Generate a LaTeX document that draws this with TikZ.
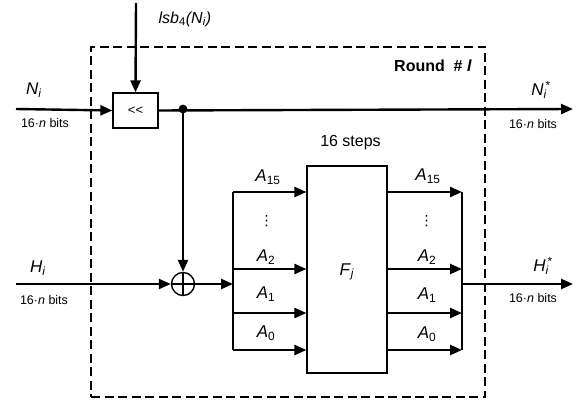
\documentclass[tikz,border=0pt]{standalone}
\usepackage{fontspec}
\setmainfont{Liberation Sans}
\newfontfamily\dejavu{DejaVu Sans}
\usetikzlibrary{arrows.meta,calc}
\newcommand{\bigf}{\fontsize{17}{20}\selectfont}
\newcommand{\midf}{\fontsize{16}{19}\selectfont}
\newcommand{\smallf}{\fontsize{12.5}{14}\selectfont}
\newcommand{\sixteenbits}{16·\textit{n} bits}
\tikzset{
  arr/.style={line width=2.4pt,-{Triangle[length=12pt,width=10pt]}},
  wire/.style={line width=2.4pt},
  blk/.style={draw,line width=1.2pt,inner sep=0pt},
  lab/.style={inner sep=0pt,font=\bigf},
  small/.style={inner sep=0pt,font=\smallf},
  dotsl/.style={inner sep=0pt,font=\dejavu\fontsize{14}{15}\selectfont},
}
\begin{document}
\begin{tikzpicture}[x=1pt,y=-1pt]
\useasboundingbox (0,0) rectangle (577,403);
% round box
\node[draw,line width=2.2pt,dash pattern=on 9pt off 4.5pt,minimum width=394pt,minimum height=350pt,inner sep=0pt] (round) at (288,222) {};
\node[inner sep=0pt,font=\midf\bfseries,anchor=east] (rl) at (472,66) {Round\ \ \# \textit{l}};
% coordinates
\coordinate (lsbtop) at (136,3);
\coordinate (Nin) at (16,109);
\coordinate (Nout) at (573,109);
\coordinate (Hin) at (16,284);
\coordinate (Hout) at (573,284);
\coordinate (dot) at (183,109);
% blocks
\node[blk,minimum width=45pt,minimum height=35pt,font=\fontsize{13}{15}\selectfont] (sh) at (135.5,110.5) {{<}{<}};
\node[circle,draw,line width=1.4pt,minimum size=23pt,inner sep=0pt] (xor) at (183,284) {};
\draw[line width=1.2pt] (xor.north) -- (xor.south) (xor.west) -- (xor.east);
\node[blk,minimum width=80pt,minimum height=207pt] (F) at (347,269.5) {};
\node[lab] (Fj) at (347,272) {\textit{F}\textsubscript{\textit{j}}};
\node[inner sep=0pt,font=\midf] (steps) at (350.5,143) {16 steps};
% bus coordinates
\coordinate (lb15) at (233,192);
\coordinate (lb2) at (233,269);
\coordinate (lb1) at (233,313);
\coordinate (lb0) at (233,350);
\coordinate (rb15) at (462,192);
\coordinate (rb2) at (462,269);
\coordinate (rb1) at (462,313);
\coordinate (rb0) at (462,350);
\coordinate (lbx) at (233,284);
\coordinate (rbx) at (462,284);
% top wires
\draw[arr] (lsbtop) -- (sh.north);
\draw[arr] (Nin) -- (sh.west);
\draw[arr] (sh.east) -- (Nout);
\fill (dot) circle (4.4pt);
\draw[arr] (dot) -- (xor.north);
\draw[arr] (Hin) -- (xor.west);
\draw[arr] (xor.east) -- (lbx);
% buses
\draw[wire] (lb15) -- (lb0);
\draw[wire] (rb15) -- (rb0);
\foreach \c in {15,2,1,0}{
  \draw[arr] (lb\c) -- (lb\c -| F.west);
  \draw[arr] (rb\c -| F.east) -- (rb\c);
}
\draw[arr] (rbx) -- (Hout);
% labels
\node[inner sep=0pt,font=\midf] (lsb) at (185,19) {\textit{lsb}\textsubscript{4}\textit{(N}\textsubscript{\textit{i}}\textit{)}};
\node[lab] (Ni) at (34,90) {\textit{N}\textsubscript{\textit{i}}};
\node[small] (nb1) at (45,123) {\sixteenbits};
\node[lab] (Nis) at (541,90) {\textit{N}\rlap{\textsubscript{\textit{i}}}\textsuperscript{\,*}};
\node[small] (nb2) at (533,124) {\sixteenbits};
\node[lab] (Hi) at (38,268) {\textit{H}\textsubscript{\textit{i}}};
\node[small] (hb1) at (44,300) {\sixteenbits};
\node[lab] (His) at (543,266) {\textit{H}\rlap{\textsubscript{\textit{i}}}\textsuperscript{\,*}};
\node[small] (hb2) at (533,298) {\sixteenbits};
% A labels left
\node[lab] (la15) at (268,177) {\textit{A}\textsubscript{15}};
\node[dotsl] (lvd) at (266.5,221) {⋮};
\node[lab] (la2) at (266,257) {\textit{A}\textsubscript{2}};
\node[lab] (la1) at (266,294) {\textit{A}\textsubscript{1}};
\node[lab] (la0) at (266,333) {\textit{A}\textsubscript{0}};
% A labels right
\node[lab] (ra15) at (428,176) {\textit{A}\textsubscript{15}};
\node[dotsl] (rvd) at (426.5,221) {⋮};
\node[lab] (ra2) at (427,257) {\textit{A}\textsubscript{2}};
\node[lab] (ra1) at (427,295) {\textit{A}\textsubscript{1}};
\node[lab] (ra0) at (427,334) {\textit{A}\textsubscript{0}};
\end{tikzpicture}
\end{document}
